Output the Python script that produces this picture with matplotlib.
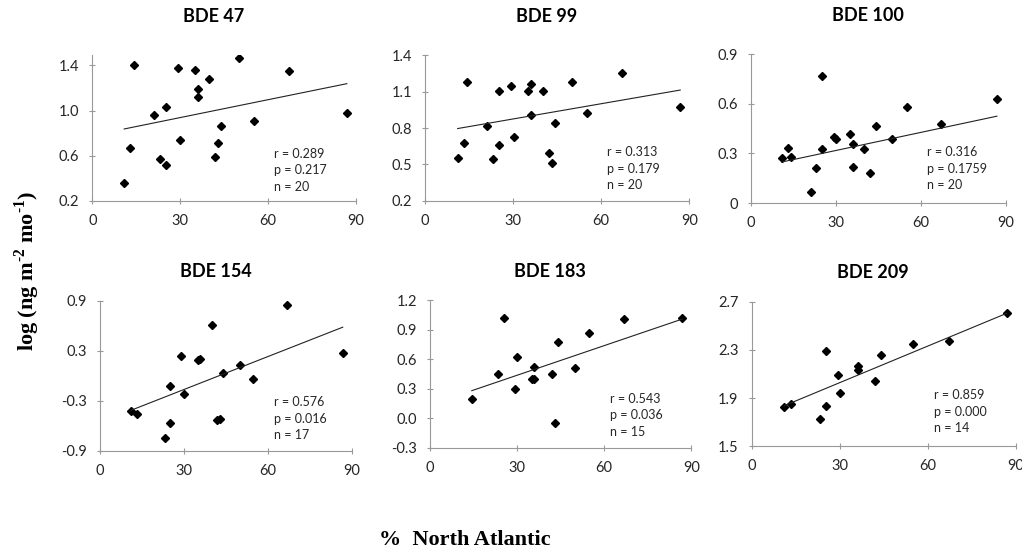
import numpy as np
import matplotlib.pyplot as plt

# % North Atlantic (x) and log flux (y)
x47 = [10.9, 13.0, 14.2, 21.2, 23.0, 25.1, 25.1, 29.1, 30.0, 35.0,
       36.1, 36.1, 40.0, 42.0, 43.0, 44.1, 50.1, 55.1, 67.1, 86.9]
y47 = [0.36, 0.67, 1.40, 0.96, 0.57, 1.035, 0.52, 1.375, 0.735, 1.355,
       1.19, 1.12, 1.28, 0.59, 0.715, 0.86, 1.465, 0.91, 1.35, 0.98]

x99 = [11.1, 13.3, 14.4, 21.2, 23.2, 25.2, 25.2, 29.3, 30.2, 35.1,
       36.2, 36.2, 40.2, 42.1, 43.1, 44.2, 50.1, 55.2, 67.2, 86.9]
y99 = [0.55, 0.68, 1.18, 0.82, 0.545, 1.105, 0.66, 1.145, 0.73, 1.105,
       1.165, 0.905, 1.105, 0.595, 0.51, 0.84, 1.18, 0.925, 1.255, 0.975]

x100 = [10.8, 13.1, 14.2, 21.1, 23.1, 25.2, 25.2, 29.2, 30.0, 35.1,
        36.1, 36.1, 40.0, 42.1, 44.1, 49.9, 55.2, 67.2, 86.8]
y100 = [0.275, 0.33, 0.28, 0.065, 0.215, 0.765, 0.325, 0.40, 0.39, 0.415,
        0.36, 0.22, 0.325, 0.18, 0.465, 0.385, 0.58, 0.475, 0.63]

x154 = [11.1, 13.2, 23.2, 25.0, 25.0, 29.0, 29.9, 34.9, 35.8, 39.9,
        41.8, 42.9, 43.9, 49.9, 54.8, 66.7, 86.7]
y154 = [-0.42, -0.455, -0.745, -0.115, -0.56, 0.24, -0.215, 0.19, 0.205, 0.615,
        -0.525, -0.52, 0.03, 0.135, -0.04, 0.85, 0.27]

x183 = [14.4, 23.3, 25.4, 29.3, 30.1, 35.1, 35.9, 35.9, 41.9, 42.9,
        44.1, 49.9, 54.9, 66.7, 86.8]
y183 = [0.20, 0.45, 1.02, 0.30, 0.625, 0.40, 0.40, 0.525, 0.45, -0.05,
        0.78, 0.515, 0.87, 1.01, 1.02]

x209 = [11.1, 13.3, 23.2, 25.3, 25.3, 29.3, 30.2, 36.3, 36.3, 42.1,
        44.2, 55.1, 67.2, 86.8]
y209 = [1.83, 1.855, 1.725, 2.29, 1.835, 2.09, 1.94, 2.17, 2.13, 2.04,
        2.255, 2.345, 2.37, 2.61]

# trend line values at the lowest and highest x of each panel
trend_lo = [0.837, 0.796, 0.248, -0.412, 0.28, 1.837]
trend_hi = [1.238, 1.113, 0.525, 0.584, 1.008, 2.603]

titles = ["BDE 47", "BDE 99", "BDE 100", "BDE 154", "BDE 183", "BDE 209"]
stats = ["r = 0.289\np = 0.217\nn = 20",
         "r = 0.313\np = 0.179\nn = 20",
         "r = 0.316\np = 0.1759\nn = 20",
         "r = 0.576\np = 0.016\nn = 17",
         "r = 0.543\np = 0.036\nn = 15",
         "r = 0.859\np = 0.000\nn = 14"]
yticks = [[0.2, 0.6, 1.0, 1.4],
          [0.2, 0.5, 0.8, 1.1, 1.4],
          [0, 0.3, 0.6, 0.9],
          [-0.9, -0.3, 0.3, 0.9],
          [-0.3, 0.0, 0.3, 0.6, 0.9, 1.2],
          [1.5, 1.9, 2.3, 2.7]]
ytick_labels = [["0.2", "0.6", "1.0", "1.4"],
                ["0.2", "0.5", "0.8", "1.1", "1.4"],
                ["0", "0.3", "0.6", "0.9"],
                ["-0.9", "-0.3", "0.3", "0.9"],
                ["-0.3", "0.0", "0.3", "0.6", "0.9", "1.2"],
                ["1.5", "1.9", "2.3", "2.7"]]
ylims = [(0.2, 1.49), (0.2, 1.4), (0, 0.9), (-0.9, 0.9), (-0.3, 1.2), (1.5, 2.7)]
xticks = [0, 30, 60, 90]

xs = [x47, x99, x100, x154, x183, x209]
ys = [y47, y99, y100, y154, y183, y209]

# axes boxes in figure fractions (left, bottom, width, height)
boxes = [(0.0903, 0.636, 0.258, 0.264),
         (0.4159, 0.636, 0.2586, 0.264),
         (0.7348, 0.632, 0.2495, 0.27),
         (0.0978, 0.183, 0.2466, 0.272),
         (0.4207, 0.189, 0.2557, 0.267),
         (0.7355, 0.1915, 0.2586, 0.262)]
stat_y = [0.21, 0.22, 0.23, 0.215, 0.22, 0.24]
title_pad = [24, 24, 24, 17, 17, 17]

plt.rcParams['font.family'] = ['Lato', 'DejaVu Sans']
plt.rcParams['mathtext.fontset'] = 'custom'
plt.rcParams['mathtext.rm'] = 'Liberation Serif:bold'
plt.rcParams['mathtext.bf'] = 'Liberation Serif:bold'
spine_col = '#999999'

fig = plt.figure(figsize=(10.22, 5.52), dpi=100)

for i in range(6):
    ax = fig.add_axes(boxes[i])
    x = np.array(xs[i])
    ax.plot(x, ys[i], linestyle='none', marker='D', markersize=4.2, color='black')

    xl = [x.min(), x.max()]
    ax.plot(xl, [trend_lo[i], trend_hi[i]], color='#222222', linewidth=0.8)

    ax.set_xlim(0, 90)
    ax.set_ylim(*ylims[i])
    ax.set_xticks(xticks)
    ax.set_yticks(yticks[i])
    ax.set_yticklabels(ytick_labels[i])
    ax.tick_params(direction='inout', length=5, width=0.8, color=spine_col,
                   labelsize=10.5, labelcolor='#262626', pad=7)
    for s in ['top', 'right']:
        ax.spines[s].set_visible(False)
    for s in ['left', 'bottom']:
        ax.spines[s].set_color(spine_col)
        ax.spines[s].set_linewidth(0.8)
    ax.set_title(titles[i], fontsize=13, fontweight='bold', x=0.46, pad=title_pad[i])
    ax.text(0.69, stat_y[i], stats[i], transform=ax.transAxes, fontsize=9,
            color='#262626', va='center', ha='left', linespacing=1.45)

fig.text(0.027, 0.51, r'log (ng m$^{\text{-2}}$ mo$^{\text{-1}}$)', rotation=90,
         ha='center', va='center', fontsize=16, fontweight='bold',
         family='Liberation Serif')
fig.text(0.455, 0.022, '%  North Atlantic', ha='center', va='center',
         fontsize=16, fontweight='bold', family='Liberation Serif')

plt.savefig('out.png', dpi=100)
